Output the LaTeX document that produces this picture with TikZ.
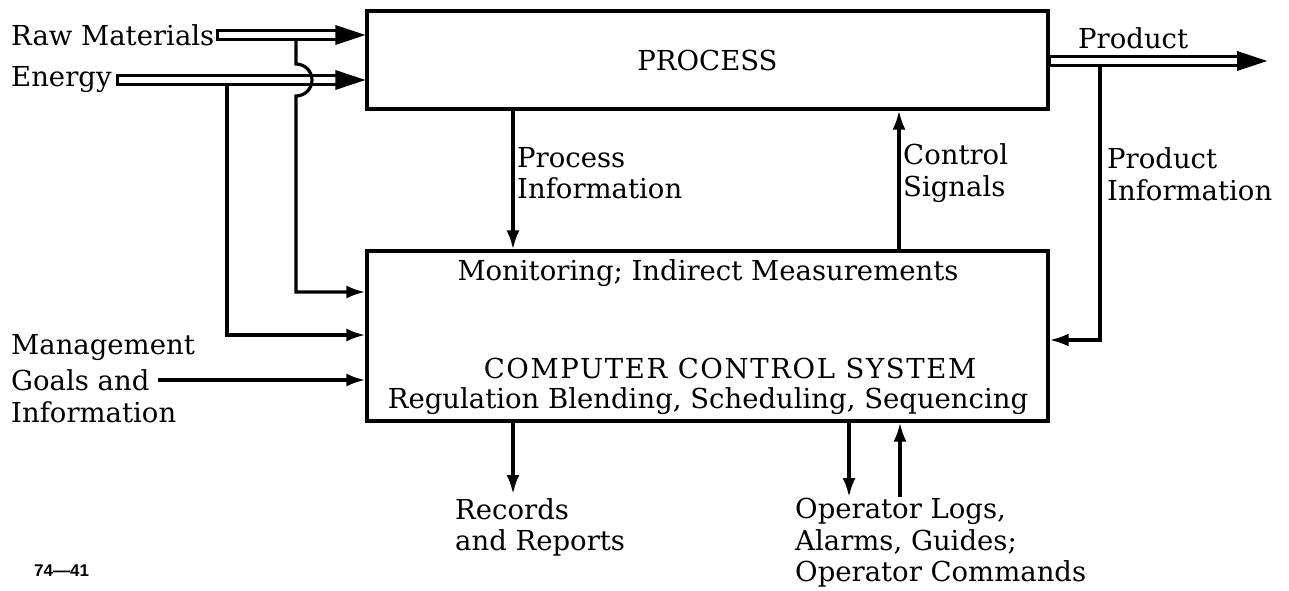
\documentclass[tikz,border=0pt]{standalone}
\usepackage{fontspec}
\setmainfont{DejaVu Serif}
\newfontfamily\spacedcaps[LetterSpace=6]{DejaVu Serif}
\newfontfamily\tagfont{Liberation Sans}
\usetikzlibrary{arrows.meta,calc}

% hollow (double-walled) material-flow arrow from #1 to #2 on one horizontal
\newcommand\hollowflow[2]{%
  \draw[hollowshaft] let \p1=#1, \p2=#2 in
    (\x1,\y1+4.6pt) rectangle (\x2-27pt,\y1-4.6pt);
  \fill let \p1=#1, \p2=#2 in
    (\x2-30pt,\y1+10pt) -- (\x2,\y1) -- (\x2-30pt,\y1-10pt) -- cycle;
}

\begin{document}
\begin{tikzpicture}[x=1pt,y=-1pt,
  every node/.style={inner sep=0pt},
  txt/.style={font=\fontsize{27.5}{31.5}\selectfont},
  blk/.style={draw, line width=3.2pt, minimum width=681pt, font=\fontsize{27.5}{31.5}\selectfont},
  flow/.style={line width=3.2pt, -{Latex[length=19pt,width=13pt]}},
  hollowshaft/.style={draw, line width=3pt, fill=white}]

\useasboundingbox (0,0) rectangle (1289,590);

% main blocks
\node[blk, minimum height=98pt] (proc) at (707.5,60) {PROCESS};
\node[blk, minimum height=170pt] (comp) at (707.5,336) {};
\node[txt] (mon) at (708,273) {Monitoring; Indirect Measurements};
\node[txt, font=\spacedcaps\fontsize{27.5}{31.5}\selectfont] (ccs) at (730,368) {COMPUTER CONTROL SYSTEM};
\node[txt] (reg) at (708,401) {Regulation Blending, Scheduling, Sequencing};

% inputs on the left
\node[txt, anchor=west] (raw) at (11,35) {Raw Materials};
\node[txt, anchor=west] (energy) at (11,80) {Energy};
\node[txt, anchor=west] (m1) at (11,348) {Management};
\node[txt, anchor=west] (m2) at (11,380) {Goals and};
\node[txt, anchor=west] (m3) at (11,412) {Information};

% outputs and signal labels
\node[txt, anchor=west] (prod) at (1078,38) {Product};
\node[txt, anchor=west, align=left] (pinfo) at (1107,174) {Product\\Information};
\node[txt, anchor=west, align=left] (procinfo) at (517,173) {Process\\Information};
\node[txt, anchor=west, align=left] (ctrl) at (903,173) {Control\\Signals};
\node[txt, anchor=north west, align=left] (rec) at (455,498) {Records\\and Reports};
\node[txt, anchor=north west, align=left] (oper) at (795,498)
  {Operator Logs,\\Alarms, Guides;\\Operator Commands};
\node[anchor=west, font=\tagfont\bfseries\fontsize{17}{17}\selectfont] (tag) at (34,571) {74—41};

% material and energy flows
\hollowflow{($(raw.east)+(3pt,0)$)}{(proc.west |- raw.east)}
\hollowflow{($(energy.east)+(6pt,0)$)}{(proc.west |- energy.east)}
\hollowflow{(proc.east |- 0,61)}{(1267,61)}

% branch taps to the computer
\coordinate (xr) at (296,0);
\coordinate (xe) at (227,0);
\coordinate (xp) at (1100,0);
\draw[flow] ($(xr |- raw.east)+(0,6)$) -- (296,64)
  arc[start angle=-90, end angle=90, radius=16] -- (296,292) -- (comp.west |- 0,292);
\draw[flow] ($(xe |- energy.east)+(0,6)$) -- (227,335) -- (comp.west |- 0,335);
\draw[flow] ($(xp |- 0,61)+(0,6)$) -- (1100,340) -- (comp.east |- 0,340);
\draw[flow] ($(m2.east)+(8pt,0)$) -- (comp.west |- m2.east);

% information flows between the blocks
\coordinate (xpi) at (513,0);
\coordinate (xcs) at (899,0);
\draw[flow] (xpi |- proc.south) -- (xpi |- comp.north);
\draw[flow] (xcs |- comp.north) -- (xcs |- proc.south);

% outputs below the computer
\coordinate (xrr) at (513,0);
\coordinate (xol) at (849,0);
\coordinate (xoc) at (900,0);
\draw[flow] (xrr |- comp.south) -- (513,494);
\draw[flow] (xol |- comp.south) -- (849,497);
\draw[flow] (900,497) -- (xoc |- comp.south);
\end{tikzpicture}
\end{document}
